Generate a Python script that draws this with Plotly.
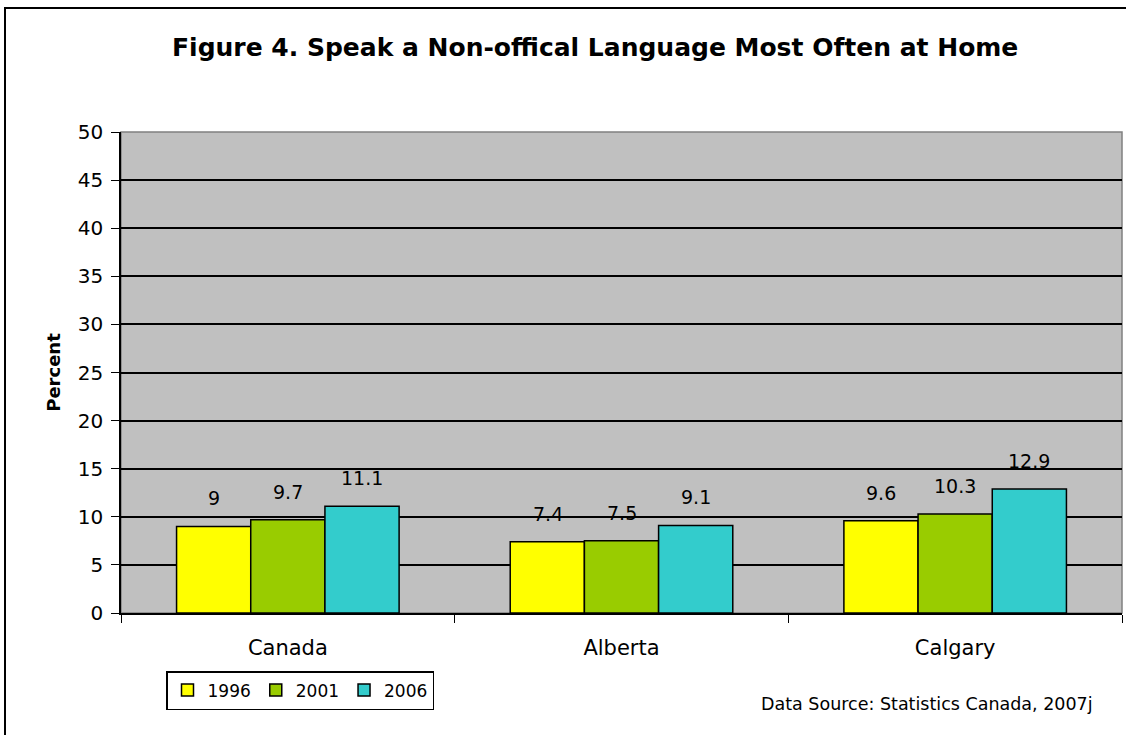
import plotly.graph_objects as go

# Share of population speaking a non-official language most often at home
regions = ["Canada", "Alberta", "Calgary"]
years = ["1996", "2001", "2006"]
pct_1996 = [9, 7.4, 9.6]
pct_2001 = [9.7, 7.5, 10.3]
pct_2006 = [11.1, 9.1, 12.9]
y_ticks = [0, 5, 10, 15, 20, 25, 30, 35, 40, 45, 50]

series = [pct_1996, pct_2001, pct_2006]
colors = ["#FFFF00", "#99CC00", "#33CCCC"]
font_family = "DejaVu Sans, Liberation Sans, Arial, sans-serif"

fig = go.Figure()
for yr, vals, col in zip(years, series, colors):
    fig.add_trace(go.Bar(
        name=yr, x=regions, y=vals,
        marker=dict(color=col, line=dict(color="#000000", width=1.5)),
    ))

# Value labels above each bar
bar_px = 74
for i, (vals, yr) in enumerate(zip(series, years)):
    for reg, v in zip(regions, vals):
        fig.add_annotation(
            x=reg, y=v, text=str(v), showarrow=False,
            xshift=(i - 1) * bar_px, yshift=28,
            font=dict(family=font_family, size=19, color="#000000"),
        )

W, H = 1126, 735
L, R, T, B = 121, 4, 132, 122
pw, ph = W - L - R, H - T - B

def px_x(x):
    return (x - L) / pw

def px_y(y):
    return (H - B - y) / ph

# Grey plot frame
fig.add_shape(type="rect", xref="paper", yref="paper", x0=0, x1=1, y0=0, y1=1,
              line=dict(color="#808080", width=1.5), layer="below")
# Outer chart frame
fig.add_shape(type="rect", xref="paper", yref="paper",
              x0=px_x(5), x1=px_x(1135), y0=px_y(745), y1=px_y(8),
              line=dict(color="#000000", width=2), fillcolor="rgba(0,0,0,0)")

fig.add_annotation(xref="paper", yref="paper", x=px_x(595), y=px_y(47),
                   text="<b>Figure 4. Speak a Non-offical Language Most Often at Home</b>",
                   showarrow=False, xanchor="center", yanchor="middle",
                   font=dict(family=font_family, size=25, color="#000000"))
fig.add_annotation(xref="paper", yref="paper", x=px_x(1095), y=px_y(704),
                   text="Data Source: Statistics Canada, 2007j",
                   showarrow=False, xanchor="right", yanchor="middle",
                   font=dict(family=font_family, size=17.5, color="#000000"))

fig.update_layout(
    width=W, height=H,
    margin=dict(l=L, r=R, t=T, b=B),
    paper_bgcolor="#FFFFFF", plot_bgcolor="#C0C0C0",
    barmode="group", bargap=0.333, bargroupgap=0,
    font=dict(family=font_family, size=18, color="#000000"),
    legend=dict(orientation="h", x=px_x(166), y=px_y(671), xanchor="left", yanchor="top",
                bordercolor="#000000", borderwidth=1.5, bgcolor="#FFFFFF",
                font=dict(size=17), itemwidth=30, tracegroupgap=0),
    showlegend=True,
    xaxis=dict(showline=True, linecolor="#000000", linewidth=1.5,
               ticks="outside", tickson="boundaries", ticklen=8, tickcolor="#000000",
               ticklabelstandoff=15,
               tickfont=dict(size=21), showgrid=False),
    yaxis=dict(range=[0, 50], tickvals=y_ticks, showline=True, linecolor="#000000",
               linewidth=1.5, ticks="outside", ticklen=8, tickcolor="#000000",
               ticklabelstandoff=4,
               showgrid=True, gridcolor="#000000", gridwidth=1.5, zeroline=False,
               tickfont=dict(size=20),
               title=dict(text="<b>Percent</b>", font=dict(size=18), standoff=12)),
)

fig.write_html("out.html")
